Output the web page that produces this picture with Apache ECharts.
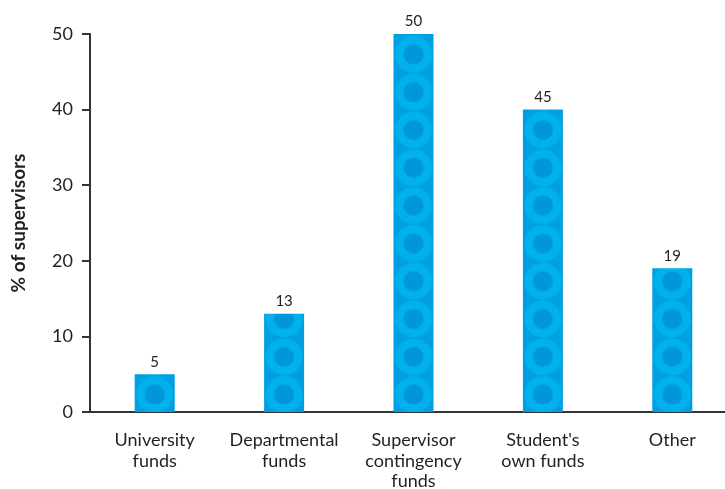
<!DOCTYPE html>
<html><head><meta charset="utf-8">
<script src="https://cdn.jsdelivr.net/npm/echarts@6/dist/echarts.min.js"></script>
<style>html,body{margin:0;padding:0;background:#fff}#c{width:725px;height:489px}</style>
</head><body><div id="c"></div>
<script>
const categories = ['University\nfunds', 'Departmental\nfunds', 'Supervisor\ncontingency\nfunds', "Student's\nown funds", 'Other'];
const barValues = [5, 13, 50, 40, 19];
const barLabels = [5, 13, 50, 45, 19];
const yMin = 0, yMax = 50, yStep = 10;
const yTitle = '% of supervisors';

const FONT = 'Lato';
const TXT = '#231f20';
const BASE = '#009fe3';
const RING = '#00b1ec';
const DOT = '#0096da';

const chart = echarts.init(document.getElementById('c'), null, {renderer: 'canvas'});

function makeTile(w, unitPx) {
  const h = Math.round(unitPx * (yMax - yMin));
  const c = document.createElement('canvas');
  c.width = w; c.height = h;
  const ctx = c.getContext('2d');
  ctx.fillStyle = BASE; ctx.fillRect(0, 0, w, h);
  const step = unitPx * 5;
  for (let k = -1; k <= (yMax - yMin) / 5 + 1; k++) {
    const cy = step / 2 + k * step;
    ctx.fillStyle = RING;
    ctx.beginPath(); ctx.arc(w / 2, cy, 18.5, 0, Math.PI * 2); ctx.fill();
    ctx.fillStyle = DOT;
    ctx.beginPath(); ctx.arc(w / 2, cy, 10, 0, Math.PI * 2); ctx.fill();
  }
  return c;
}

function buildOption(itemColors) {
  return {
    animation: false,
    backgroundColor: '#fff',
    grid: {left: 90, top: 34, width: 647, height: 378, containLabel: false, outerBoundsMode: 'none'},
    xAxis: {
      type: 'category',
      data: categories,
      axisLine: {show: true, lineStyle: {color: '#333', width: 2}},
      axisTick: {show: false},
      axisLabel: {color: TXT, fontFamily: FONT, fontSize: 18, lineHeight: 20.5, margin: 18, interval: 0}
    },
    yAxis: {
      type: 'value',
      min: yMin, max: yMax, interval: yStep,
      name: yTitle,
      nameLocation: 'middle',
      nameGap: 62,
      nameRotate: 90,
      nameTextStyle: {color: TXT, fontFamily: FONT, fontSize: 19, fontWeight: 'bold'},
      axisLine: {show: true, lineStyle: {color: '#333', width: 2}},
      axisTick: {show: true, length: 8, lineStyle: {color: '#333', width: 2}},
      splitLine: {show: false},
      axisLabel: {color: TXT, fontFamily: FONT, fontSize: 18, margin: 17}
    },
    series: [{
      type: 'bar',
      barWidth: 40,
      data: barValues.map((v, i) => ({
        value: v,
        itemStyle: {color: itemColors ? itemColors[i] : BASE}
      })),
      label: {
        show: true, position: 'top', distance: 5,
        color: TXT, fontFamily: FONT, fontSize: 15,
        formatter: p => String(barLabels[p.dataIndex])
      }
    }]
  };
}

chart.setOption(buildOption(null));
const unitPx = Math.abs(chart.convertToPixel({yAxisIndex: 0}, 0) - chart.convertToPixel({yAxisIndex: 0}, 1));
const topPx = chart.convertToPixel({yAxisIndex: 0}, yMax);
const tile = makeTile(40, unitPx);
const colors = barValues.map((v, i) => {
  const cx = chart.convertToPixel({xAxisIndex: 0}, i);
  return {image: tile, repeat: 'repeat', x: cx - 20, y: topPx + 1.5};
});
chart.setOption(buildOption(colors), true);
</script>
</body></html>
